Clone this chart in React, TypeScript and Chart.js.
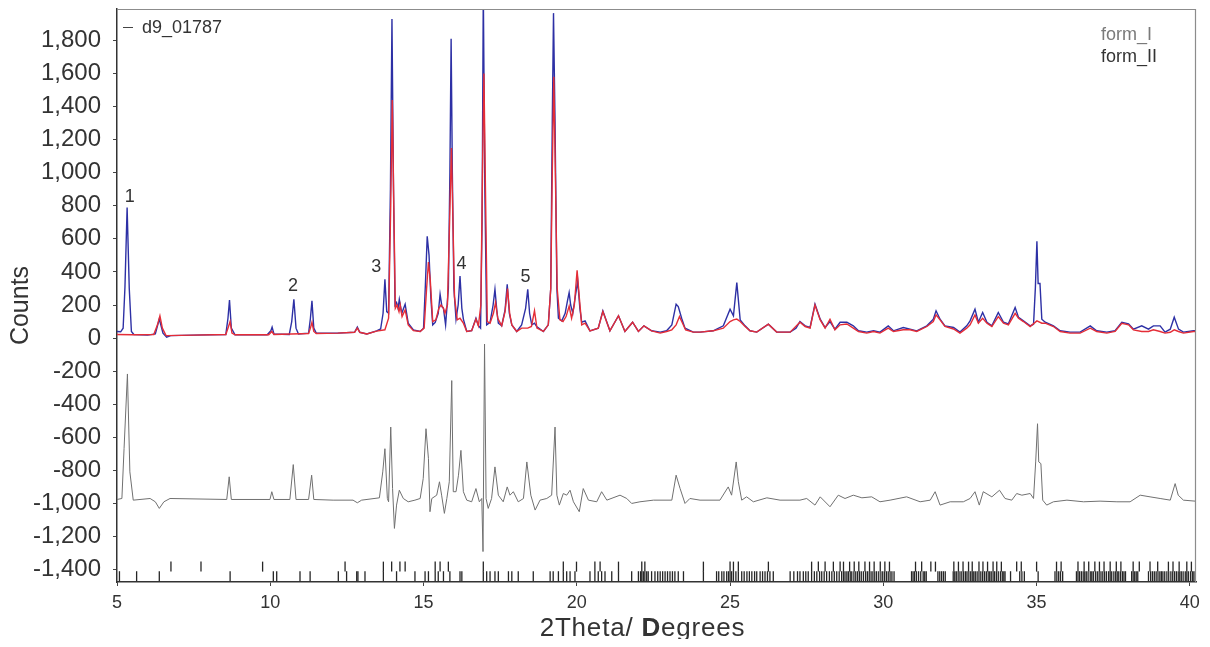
import React, { useEffect, useRef } from 'react';
import { Chart, registerables } from 'chart.js';
Chart.register(...registerables);

// ---- Data ----
const OBS_X = [5.00,5.12,5.20,5.26,5.33,5.40,5.47,5.55,6.00,6.25,6.38,6.50,6.62,6.75,7.50,8.55,8.62,8.67,8.73,8.85,9.90,10.02,10.06,10.12,10.62,10.70,10.77,10.84,10.92,11.25,11.31,11.36,11.42,11.50,12.20,12.75,12.84,12.92,13.15,13.47,13.60,13.68,13.74,13.80,13.86,13.92,13.97,14.02,14.07,14.12,14.17,14.21,14.29,14.40,14.50,14.67,14.89,15.00,15.06,15.12,15.18,15.24,15.30,15.38,15.48,15.54,15.60,15.65,15.72,15.81,15.86,15.90,15.94,15.99,16.06,16.13,16.19,16.25,16.30,16.41,16.57,16.71,16.79,16.86,16.91,16.95,17.00,17.06,17.17,17.27,17.33,17.39,17.44,17.55,17.66,17.73,17.80,17.88,18.04,18.20,18.33,18.40,18.46,18.53,18.62,18.69,18.91,19.07,19.15,19.20,19.24,19.29,19.35,19.40,19.51,19.62,19.70,19.75,19.80,19.87,19.95,20.03,20.10,20.16,20.27,20.43,20.70,20.85,21.08,21.36,21.57,21.82,22.01,22.19,22.44,22.72,22.93,23.10,23.24,23.31,23.42,23.53,23.80,24.02,24.45,24.78,25.00,25.11,25.22,25.33,25.49,25.65,25.87,26.25,26.52,26.96,27.15,27.28,27.45,27.61,27.77,27.94,28.10,28.26,28.42,28.59,28.81,29.02,29.19,29.46,29.68,29.89,30.16,30.33,30.65,30.87,31.09,31.42,31.63,31.72,31.85,32.01,32.29,32.50,32.72,32.83,32.99,33.10,33.24,33.38,33.54,33.75,33.92,34.08,34.30,34.41,34.57,34.79,34.90,34.96,35.01,35.05,35.11,35.17,35.28,35.55,35.77,36.09,36.42,36.75,36.96,37.29,37.56,37.78,38.00,38.16,38.43,38.65,38.81,39.03,39.19,39.36,39.49,39.63,39.79,40.12,40.20];
const OBS_Y = [40,38,60,310,790,300,40,22,18,25,115,30,5,15,18,22,120,230,60,20,20,45,66,25,22,100,235,60,25,30,120,225,60,30,30,35,66,35,25,44,55,150,355,160,150,900,1930,900,200,215,180,235,150,205,90,50,40,60,320,616,500,240,80,95,150,265,190,180,80,300,1000,1810,1000,300,115,200,375,180,115,40,45,120,75,60,700,2100,900,80,95,200,295,170,90,75,170,325,150,80,40,80,180,295,150,80,90,70,40,80,300,1300,1965,1300,300,120,104,150,230,275,200,150,250,345,180,96,104,44,60,165,44,135,40,96,40,74,44,36,44,80,205,190,120,60,36,36,44,74,175,135,335,110,74,44,36,84,36,36,60,100,74,64,205,114,64,100,54,96,96,74,44,36,44,36,74,44,64,54,44,74,114,165,114,74,64,36,74,104,175,96,155,96,74,155,96,86,185,125,104,74,84,305,586,330,330,114,96,74,44,36,36,74,44,36,44,96,86,54,74,54,74,74,36,54,126,54,36,44,44];

const CALC_X = [5.00,5.50,6.20,6.32,6.40,6.48,6.60,7.50,8.55,8.62,8.69,8.75,8.85,9.95,10.05,10.12,11.25,11.31,11.36,11.42,11.50,12.20,12.75,12.84,12.92,13.15,13.47,13.74,13.86,13.93,13.98,14.03,14.08,14.14,14.20,14.24,14.30,14.40,14.50,14.67,14.89,15.02,15.10,15.16,15.22,15.30,15.40,15.50,15.57,15.64,15.70,15.78,15.85,15.91,15.96,16.01,16.10,16.19,16.30,16.41,16.57,16.71,16.79,16.87,16.93,16.97,17.02,17.08,17.17,17.28,17.35,17.42,17.55,17.66,17.74,17.81,17.88,18.04,18.20,18.40,18.52,18.62,18.70,18.91,19.07,19.15,19.20,19.25,19.30,19.36,19.45,19.55,19.65,19.75,19.83,19.92,20.01,20.08,20.16,20.27,20.43,20.70,20.85,21.08,21.36,21.57,21.82,22.01,22.19,22.44,22.72,22.93,23.10,23.24,23.35,23.45,23.55,23.80,24.02,24.45,24.78,25.00,25.11,25.22,25.33,25.49,25.65,25.87,26.25,26.52,26.96,27.28,27.45,27.61,27.77,27.94,28.10,28.26,28.42,28.59,28.81,29.02,29.19,29.46,29.68,29.89,30.16,30.33,30.65,30.87,31.09,31.42,31.63,31.72,31.85,32.01,32.29,32.50,32.72,32.83,32.99,33.10,33.24,33.38,33.54,33.75,33.92,34.08,34.30,34.41,34.57,34.79,35.01,35.17,35.28,35.55,35.77,36.09,36.42,36.75,36.96,37.29,37.56,37.78,38.00,38.16,38.43,38.65,38.81,39.03,39.19,39.36,39.49,39.63,39.79,40.12,40.20];
const CALC_Y = [22,20,22,80,135,60,15,18,22,60,100,30,20,20,40,22,28,60,95,40,28,30,35,60,35,25,42,50,120,800,1440,800,180,200,160,200,130,170,80,45,40,60,300,460,350,100,110,180,200,185,150,200,700,1150,700,250,110,120,90,40,45,115,75,200,1100,1600,900,100,90,150,215,120,75,160,300,150,80,40,60,60,70,165,60,40,80,300,1000,1580,1000,300,110,100,130,193,120,200,410,250,80,90,44,60,160,44,135,40,96,40,74,44,30,40,50,80,130,90,50,36,36,44,60,100,110,115,100,70,44,36,84,36,36,96,70,60,200,110,60,114,50,80,85,60,40,30,40,30,60,40,50,50,40,70,100,140,110,70,55,30,60,80,140,90,120,90,70,130,90,80,150,120,100,70,104,90,90,70,40,30,30,60,40,30,40,90,80,50,40,40,50,40,30,35,50,40,30,40,40];

const DIFF_X = [5.00,5.16,5.23,5.34,5.42,5.53,6.08,6.25,6.38,6.53,6.73,8.58,8.66,8.73,9.99,10.05,10.12,10.64,10.75,10.84,11.25,11.35,11.42,12.05,12.70,12.84,12.98,13.56,13.67,13.74,13.82,13.86,13.93,13.99,14.05,14.12,14.21,14.34,14.50,14.72,14.89,14.99,15.08,15.16,15.21,15.27,15.43,15.52,15.59,15.68,15.76,15.84,15.92,15.97,16.06,16.14,16.22,16.30,16.41,16.57,16.71,16.82,16.90,16.94,16.99,17.04,17.11,17.22,17.33,17.44,17.60,17.73,17.82,17.93,18.09,18.26,18.37,18.50,18.64,18.80,19.02,19.18,19.29,19.35,19.43,19.56,19.67,19.78,19.89,20.08,20.21,20.38,20.65,20.81,20.98,21.41,21.63,21.79,22.06,22.50,23.10,23.24,23.37,23.53,23.69,24.02,24.67,24.94,25.05,25.20,25.27,25.38,25.54,25.76,26.20,26.63,27.28,27.50,27.77,27.94,28.26,28.53,28.75,29.02,29.30,29.62,29.89,30.22,30.76,31.20,31.53,31.69,31.85,32.18,32.61,32.83,32.99,33.13,33.26,33.54,33.79,33.97,34.19,34.35,34.52,34.79,34.90,34.97,35.03,35.07,35.14,35.20,35.33,35.55,35.99,36.53,37.07,37.62,38.05,38.38,38.70,39.03,39.36,39.52,39.62,39.79,40.17,40.20];
const DIFF_Y = [-976,-970,-669,-217,-809,-980,-970,-990,-1030,-990,-970,-976,-839,-976,-976,-929,-976,-976,-765,-976,-976,-829,-976,-980,-980,-996,-980,-966,-809,-669,-970,-990,-538,-910,-1151,-1010,-920,-970,-990,-980,-970,-849,-548,-729,-1050,-970,-950,-869,-950,-1060,-970,-869,-257,-929,-929,-829,-679,-929,-980,-990,-910,-990,-970,-1291,-36,-970,-1030,-970,-779,-950,-990,-900,-950,-929,-990,-970,-749,-950,-1040,-980,-970,-950,-538,-950,-1010,-940,-950,-920,-990,-1050,-910,-980,-990,-929,-980,-950,-970,-1000,-990,-980,-980,-829,-910,-1000,-970,-980,-980,-900,-950,-749,-869,-980,-960,-990,-966,-980,-980,-970,-1010,-960,-1020,-950,-970,-950,-966,-960,-990,-980,-960,-990,-980,-929,-1010,-990,-990,-970,-929,-1010,-929,-960,-920,-970,-980,-940,-950,-940,-970,-749,-518,-749,-759,-980,-1010,-990,-980,-990,-986,-990,-990,-950,-960,-970,-980,-880,-950,-980,-986,-986];

// reflection tick positions (2Theta) and their levels (Counts)
const FORM_I_POS = [5.08,5.64,6.38,8.69,10.10,10.21,10.97,11.30,12.22,12.49,12.82,12.86,13.09,13.69,14.12,14.72,15.05,15.16,15.38,15.48,15.65,15.86,16.19,16.25,16.95,17.06,17.17,17.33,17.44,17.77,17.88,18.09,18.58,19.13,19.23,19.40,19.56,19.67,19.78,19.94,20.43,20.59,20.70,20.81,20.92,21.14,21.36,21.79,22.01,22.08,22.12,22.17,22.22,22.28,22.33,22.44,22.55,22.64,22.72,22.80,22.88,22.96,23.04,23.12,23.20,23.31,23.48,24.13,24.56,24.63,24.73,24.80,24.89,24.95,25.00,25.05,25.11,25.19,25.27,25.38,25.46,25.55,25.63,25.71,25.80,25.87,25.98,26.06,26.14,26.22,26.30,26.41,26.96,27.08,27.20,27.28,27.39,27.47,27.55,27.66,27.75,27.83,27.92,27.99,28.07,28.15,28.24,28.32,28.40,28.48,28.56,28.64,28.70,28.75,28.81,28.86,28.92,28.97,29.04,29.10,29.16,29.22,29.28,29.35,29.42,29.48,29.54,29.60,29.66,29.72,29.78,29.85,29.92,29.98,30.04,30.10,30.16,30.22,30.28,30.35,30.92,30.97,31.02,31.08,31.15,31.22,31.30,31.35,31.40,31.78,31.84,31.90,31.96,32.02,32.28,32.33,32.38,32.44,32.50,32.56,32.62,32.68,32.73,32.79,32.85,32.90,32.95,33.00,33.06,33.12,33.18,33.24,33.30,33.36,33.42,33.47,33.52,33.58,33.63,33.69,33.75,33.82,33.88,33.93,33.97,34.15,34.45,34.52,34.60,35.05,35.60,35.66,35.72,35.78,35.85,36.30,36.35,36.40,36.46,36.52,36.57,36.62,36.68,36.75,36.80,36.85,36.92,36.98,37.04,37.10,37.16,37.22,37.28,37.35,37.40,37.45,37.52,37.58,37.63,37.68,37.74,37.80,37.85,37.90,38.10,38.15,38.20,38.25,38.30,38.65,38.72,38.78,38.84,38.90,38.96,39.02,39.07,39.12,39.18,39.25,39.31,39.38,39.44,39.50,39.56,39.62,39.67,39.72,39.78,39.85,39.90,39.95,40.02,40.08,40.13,40.18];
const FORM_II_POS = [6.76,7.74,9.75,12.44,13.69,13.96,14.23,14.40,15.38,15.54,15.81,16.95,19.56,19.99,20.59,20.76,21.36,22.12,22.22,24.13,25.00,25.11,25.27,26.25,27.66,27.88,28.10,28.37,28.59,28.70,28.90,29.05,29.20,29.40,29.55,29.70,29.90,30.05,30.20,31.05,31.25,31.55,31.70,32.30,32.45,32.60,32.78,32.90,33.12,33.25,33.40,33.58,33.70,33.85,34.35,34.50,35.00,35.65,35.80,36.35,36.55,36.70,36.90,37.05,37.20,37.40,37.60,37.75,38.15,38.35,38.70,38.95,39.30,39.45,39.65,39.90,40.05];
const FORM_I_LEVEL = -1440;
const FORM_II_LEVEL = -1382;

const X_TICKS = [5, 10, 15, 20, 25, 30, 35, 40];
const Y_TICKS = [-1400, -1200, -1000, -800, -600, -400, -200, 0, 200, 400, 600, 800, 1000, 1200, 1400, 1600, 1800];
const X_MIN = 5, X_MAX = 40.2, Y_MIN = -1475, Y_MAX = 1990;

const PEAK_LABELS = ['1', '2', '3', '4', '5'];
const PEAK_X = [5.42, 10.74, 13.46, 16.24, 18.33];
const PEAK_Y = [855, 313, 427, 445, 367];

const SERIES_NAME = 'd9_01787';
const PHASE_NAMES = ['form_I', 'form_II'];
const X_TITLE_PARTS = ['2Theta/ ', 'D', 'egrees'];
const Y_TITLE = 'Counts';

const FONT = '"Liberation Sans", Arial, sans-serif';

const zip = (xs: number[], ys: number[]) => xs.map((x, i) => ({ x, y: ys[i] }));

const overlay = {
  id: 'overlay',
  afterDraw(chart: any) {
    const { ctx, chartArea: a, scales } = chart;
    ctx.save();
    // frame top & right
    ctx.strokeStyle = '#8c8c8c';
    ctx.lineWidth = 1.2;
    ctx.beginPath();
    ctx.moveTo(a.left, a.top + 0.5);
    ctx.lineTo(a.right - 0.5, a.top + 0.5);
    ctx.lineTo(a.right - 0.5, a.bottom);
    ctx.stroke();
    // series legend
    ctx.strokeStyle = '#444';
    ctx.lineWidth = 1;
    ctx.beginPath();
    ctx.moveTo(a.left + 6, a.top + 18.5);
    ctx.lineTo(a.left + 16, a.top + 18.5);
    ctx.stroke();
    ctx.font = '18px ' + FONT;
    ctx.fillStyle = '#333';
    ctx.textAlign = 'left';
    ctx.textBaseline = 'middle';
    ctx.fillText(SERIES_NAME, a.left + 25, a.top + 19);
    // phase legend
    ctx.fillStyle = '#7a7a7a';
    ctx.fillText(PHASE_NAMES[0], a.right - 95, a.top + 26);
    ctx.fillStyle = '#333';
    ctx.fillText(PHASE_NAMES[1], a.right - 95, a.top + 48);
    // peak numbers
    ctx.textAlign = 'center';
    PEAK_LABELS.forEach((t, i) => {
      ctx.fillText(t, scales.x.getPixelForValue(PEAK_X[i]), scales.y.getPixelForValue(PEAK_Y[i]));
    });
    // x title (with bold D)
    ctx.textAlign = 'left';
    ctx.textBaseline = 'alphabetic';
    (ctx as any).letterSpacing = '0.8px';
    const fonts = ['26px ' + FONT, 'bold 26px ' + FONT, '26px ' + FONT];
    let total = 0;
    X_TITLE_PARTS.forEach((p, i) => { ctx.font = fonts[i]; total += ctx.measureText(p).width; });
    let x = (a.left + a.right) / 2 - 14 - total / 2;
    X_TITLE_PARTS.forEach((p, i) => {
      ctx.font = fonts[i];
      ctx.fillText(p, x, a.bottom + 54);
      x += ctx.measureText(p).width;
    });
    (ctx as any).letterSpacing = '0px';
    // y title
    ctx.font = '25px ' + FONT;
    ctx.textAlign = 'center';
    ctx.textBaseline = 'middle';
    ctx.translate(13, (a.top + a.bottom) / 2 + 10);
    ctx.rotate(-Math.PI / 2);
    ctx.fillText(Y_TITLE, 0, 0);
    ctx.restore();
  },
};

export default function App() {
  const ref = useRef<HTMLCanvasElement>(null);
  useEffect(() => {
    if (!ref.current) return;
    Chart.defaults.font.family = FONT;
    const tickDs = (pos: number[], level: number, color: string) => ({
      type: 'scatter' as const,
      data: pos.map((x) => ({ x, y: level })),
      showLine: false,
      pointStyle: 'line',
      rotation: 90,
      pointRadius: 5,
      pointHoverRadius: 5,
      borderColor: color,
      backgroundColor: color,
      borderWidth: 1.3,
      order: 3,
    });
    const chart = new Chart(ref.current, {
      type: 'scatter',
      data: {
        datasets: [
          { label: 'calc', data: zip(CALC_X, CALC_Y), showLine: true, borderColor: 'rgb(228,45,55)', borderWidth: 1.4, pointRadius: 0, order: 0 } as any,
          { label: SERIES_NAME, data: zip(OBS_X, OBS_Y), showLine: true, borderColor: 'rgb(45,48,165)', borderWidth: 1.4, pointRadius: 0, order: 1 } as any,
          { label: 'diff', data: zip(DIFF_X, DIFF_Y), showLine: true, borderColor: '#707070', borderWidth: 1, pointRadius: 0, order: 2 } as any,
          tickDs(FORM_I_POS, FORM_I_LEVEL, '#262626') as any,
          tickDs(FORM_II_POS, FORM_II_LEVEL, '#262626') as any,
        ],
      },
      options: {
        responsive: false,
        animation: false,
        layout: { autoPadding: false, padding: { left: 0, top: 1, right: 6, bottom: 0 } },
        plugins: { legend: { display: false }, tooltip: { enabled: false } },
        scales: {
          x: {
            type: 'linear',
            min: X_MIN,
            max: X_MAX,
            afterFit: (s: any) => { s.height = 57; s.paddingLeft = 0; s.paddingRight = 0; },
            afterBuildTicks: (s: any) => { s.ticks = X_TICKS.map((v) => ({ value: v })); },
            ticks: { color: '#333', font: { size: 18 }, padding: 6, maxRotation: 0, callback: (v: any) => String(v) },
            grid: { display: true, drawOnChartArea: false, drawTicks: true, tickLength: 4, color: '#444' },
            border: { display: true, color: '#333', width: 1.5 },
          },
          y: {
            type: 'linear',
            min: Y_MIN,
            max: Y_MAX,
            afterFit: (s: any) => { s.width = 109; s.paddingTop = 0; s.paddingBottom = 0; },
            afterBuildTicks: (s: any) => { s.ticks = Y_TICKS.map((v) => ({ value: v })); },
            ticks: { color: '#333', font: { size: 24 }, padding: 12, callback: (v: any) => Number(v).toLocaleString('en-US') },
            grid: { display: true, drawOnChartArea: false, drawTicks: true, tickLength: 4, color: '#444' },
            border: { display: true, color: '#333', width: 1.5 },
          },
        },
      } as any,
      plugins: [overlay],
    });
    return () => chart.destroy();
  }, []);
  return (
    <div style={{ width: 1194, height: 631 }}>
      <canvas ref={ref} width={1194} height={631} style={{ display: 'block' }} />
    </div>
  );
}
